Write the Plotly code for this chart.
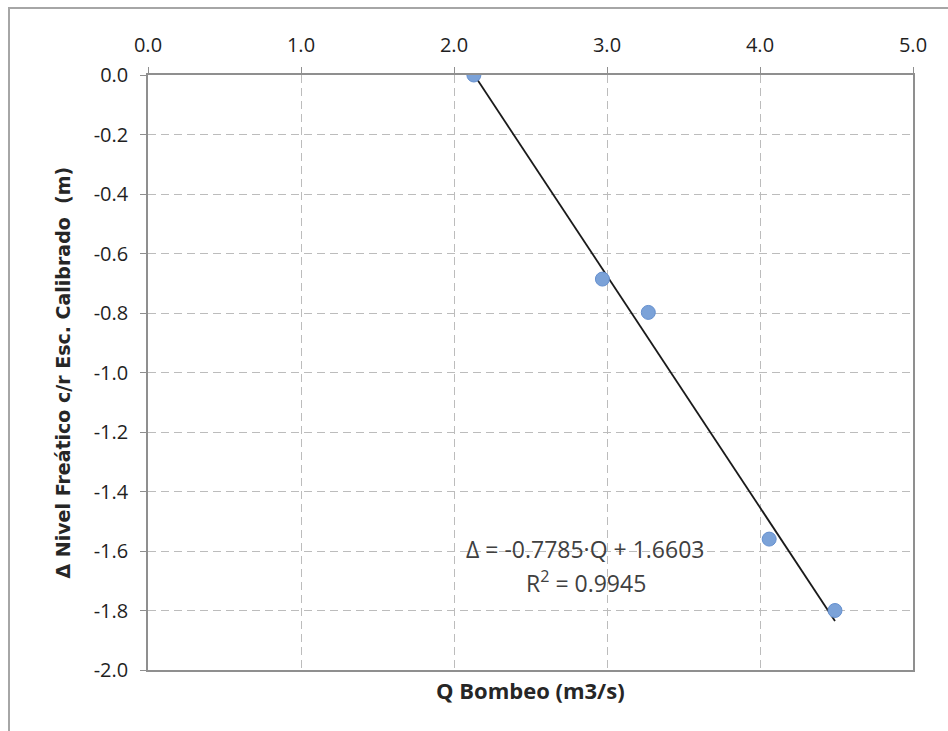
import plotly.graph_objects as go

# Data
Q_BOMBEO = [2.13, 2.97, 3.27, 4.06, 4.49]
DELTA_NIVEL = [0.0, -0.686, -0.798, -1.560, -1.800]

# Trendline coefficients shown on the chart
SLOPE = -0.7785
INTERCEPT = 1.6603
R2 = 0.9945

X_TICKS = [0.0, 1.0, 2.0, 3.0, 4.0, 5.0]
X_TICK_LABELS = ["0.0", "1.0", "2.0", "3.0", "4.0", "5.0"]
Y_TICKS = [0.0, -0.2, -0.4, -0.6, -0.8, -1.0, -1.2, -1.4, -1.6, -1.8, -2.0]
Y_TICK_LABELS = ["0.0", "-0.2", "-0.4", "-0.6", "-0.8", "-1.0", "-1.2", "-1.4", "-1.6", "-1.8", "-2.0"]

X_TITLE = "Q Bombeo (m3/s)"
Y_TITLE = "Δ Nivel Freático c/r Esc. Calibrado  (m)"

FONT = "Open Sans"

trend_x = [min(Q_BOMBEO), max(Q_BOMBEO)]
trend_y = [SLOPE * x + INTERCEPT for x in trend_x]

fig = go.Figure()
fig.add_trace(go.Scatter(
    x=trend_x, y=trend_y, mode="lines",
    line=dict(color="#1a1a1a", width=1.8),
    showlegend=False, hoverinfo="skip",
))
fig.add_trace(go.Scatter(
    x=Q_BOMBEO, y=DELTA_NIVEL, mode="markers",
    marker=dict(size=14, color="#7BA2D8", line=dict(color="#6590CF", width=1)),
    showlegend=False,
))

grid = dict(showgrid=True, gridcolor="#bcbcbc", gridwidth=1, griddash="8px,5px")
axis_line = dict(showline=True, linecolor="#8f8f8f", linewidth=1.5, mirror=True,
                 ticks="outside", ticklen=6, tickcolor="#8f8f8f", zeroline=False)
tickfont = dict(family=FONT, size=20, color="#1f1f1f")

fig.update_xaxes(
    range=[0, 5], side="top", tickvals=X_TICKS, ticktext=X_TICK_LABELS,
    tickfont=tickfont, ticklabelstandoff=7, **grid, **axis_line,
)
fig.update_yaxes(
    range=[-2, 0], tickvals=Y_TICKS, ticktext=Y_TICK_LABELS,
    tickfont=tickfont, ticklabelstandoff=8, **grid, **axis_line,
)

# Axis titles as annotations for precise placement
fig.add_annotation(
    text="<b>" + X_TITLE + "</b>", xref="paper", yref="paper",
    x=0.5, y=(670 - 690) / 595, xanchor="center", yanchor="middle", showarrow=False,
    font=dict(family=FONT, size=22, color="#262626"),
)
fig.add_annotation(
    text="<b>" + Y_TITLE + "</b>", xref="paper", yref="paper",
    x=(62 - 148) / 765, y=0.5, xanchor="center", yanchor="middle",
    textangle=-90, showarrow=False,
    font=dict(family="DejaVu Sans", size=19, color="#262626"),
)

# Trendline equation
fig.add_annotation(
    text="Δ = %.4f·Q + %.4f" % (SLOPE, INTERCEPT), x=2.856, y=-1.593,
    xanchor="center", yanchor="middle",
    showarrow=False, font=dict(family=FONT, size=23, color="#404040"),
)
fig.add_annotation(
    text="R<sup>2</sup> = %.4f" % R2, x=2.862, y=-1.704,
    xanchor="center", yanchor="middle",
    showarrow=False, font=dict(family=FONT, size=23, color="#404040"),
)

# Outer chart border
fig.add_shape(
    type="rect", xref="paper", yref="paper",
    x0=(9 - 148) / 765, x1=1.2, y0=-0.3, y1=(670 - 8) / 595,
    line=dict(color="#a6a6a6", width=2), fillcolor="rgba(0,0,0,0)", layer="below",
)

fig.update_layout(
    width=948, height=731, autosize=False,
    margin=dict(l=148, r=35, t=75, b=61),
    plot_bgcolor="white", paper_bgcolor="white",
)

fig.write_html("out.html")
